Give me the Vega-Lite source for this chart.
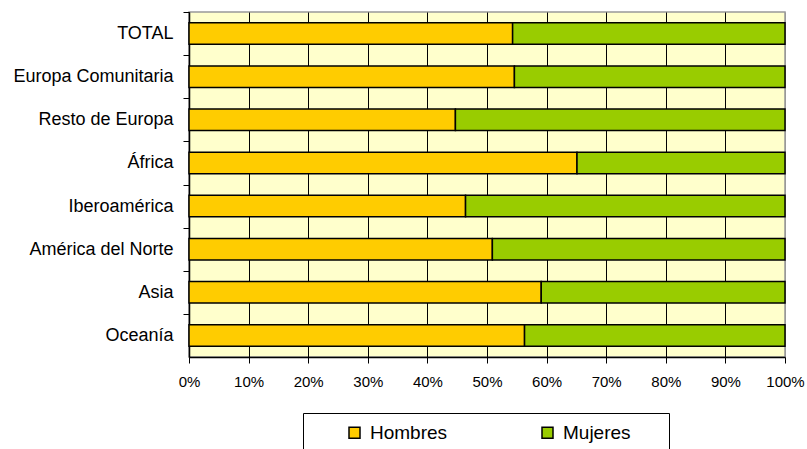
{
  "$schema": "https://vega.github.io/schema/vega-lite/v6.json",
  "width": 596,
  "height": 345,
  "autosize": {"type": "none"},
  "padding": {"left": 189, "top": 12, "right": 22, "bottom": 92},
  "background": "white",
  "config": {
    "font": "Liberation Sans",
    "view": {"stroke": "#999999", "strokeWidth": 1.5, "fill": "#FFFFCC"}
  },
  "data": {
    "values": [
      {"region": "TOTAL", "sexo": "Hombres", "pct": 54.3},
      {"region": "TOTAL", "sexo": "Mujeres", "pct": 45.7},
      {"region": "Europa Comunitaria", "sexo": "Hombres", "pct": 54.6},
      {"region": "Europa Comunitaria", "sexo": "Mujeres", "pct": 45.4},
      {"region": "Resto de Europa", "sexo": "Hombres", "pct": 44.7},
      {"region": "Resto de Europa", "sexo": "Mujeres", "pct": 55.3},
      {"region": "África", "sexo": "Hombres", "pct": 65.1},
      {"region": "África", "sexo": "Mujeres", "pct": 34.9},
      {"region": "Iberoamérica", "sexo": "Hombres", "pct": 46.4},
      {"region": "Iberoamérica", "sexo": "Mujeres", "pct": 53.6},
      {"region": "América del Norte", "sexo": "Hombres", "pct": 50.9},
      {"region": "América del Norte", "sexo": "Mujeres", "pct": 49.1},
      {"region": "Asia", "sexo": "Hombres", "pct": 59.1},
      {"region": "Asia", "sexo": "Mujeres", "pct": 40.9},
      {"region": "Oceanía", "sexo": "Hombres", "pct": 56.3},
      {"region": "Oceanía", "sexo": "Mujeres", "pct": 43.7}
    ]
  },
  "mark": {"type": "bar", "stroke": "black", "strokeWidth": 1.5},
  "encoding": {
    "y": {
      "field": "region",
      "type": "nominal",
      "sort": null,
      "title": null,
      "scale": {"paddingInner": 0.5, "paddingOuter": 0.25},
      "axis": {
        "tickOffset": -21.56,
        "labelOffset": 21.56,
        "tickExtra": false,
        "domainColor": "black",
        "domainWidth": 1.5,
        "tickColor": "black",
        "tickSize": 6,
        "labelFontSize": 18,
        "labelColor": "black",
        "labelPadding": 10,
        "labelLimit": 300,
        "grid": false
      }
    },
    "x": {
      "field": "pct",
      "type": "quantitative",
      "stack": "normalize",
      "title": null,
      "scale": {"domain": [0, 1], "nice": false},
      "axis": {
        "format": ".0%",
        "values": [0, 0.1, 0.2, 0.3, 0.4, 0.5, 0.6, 0.7, 0.8, 0.9, 1],
        "grid": true,
        "gridColor": {"condition": {"test": "datum.value === 1", "value": "#999999"}, "value": "black"},
        "gridOpacity": 1,
        "gridWidth": 1,
        "domainColor": "black",
        "domainWidth": 1.5,
        "tickColor": "black",
        "tickSize": 6,
        "labelFontSize": 15,
        "labelColor": "black",
        "labelPadding": 11,
        "labelFlush": false
      }
    },
    "color": {
      "field": "sexo",
      "type": "nominal",
      "scale": {"domain": ["Hombres", "Mujeres"], "range": ["#FFCC00", "#99CC00"]},
      "legend": {
        "orient": "none",
        "legendX": 114,
        "legendY": 401,
        "direction": "horizontal",
        "title": " ",
        "titleOrient": "left",
        "titlePadding": 32,
        "titleFontSize": 10,
        "strokeColor": "black",
        "fillColor": "white",
        "padding": 10,
        "symbolType": "square",
        "symbolSize": 121,
        "symbolStrokeColor": "black",
        "symbolStrokeWidth": 1.5,
        "symbolOpacity": 1,
        "labelFontSize": 19,
        "labelColor": "black",
        "labelOffset": 6,
        "columnPadding": 90,
        "labelExpr": "datum.label == 'Mujeres' ? datum.label + '\u2800\u2800\u00a0' : datum.label"
      }
    }
  }
}
